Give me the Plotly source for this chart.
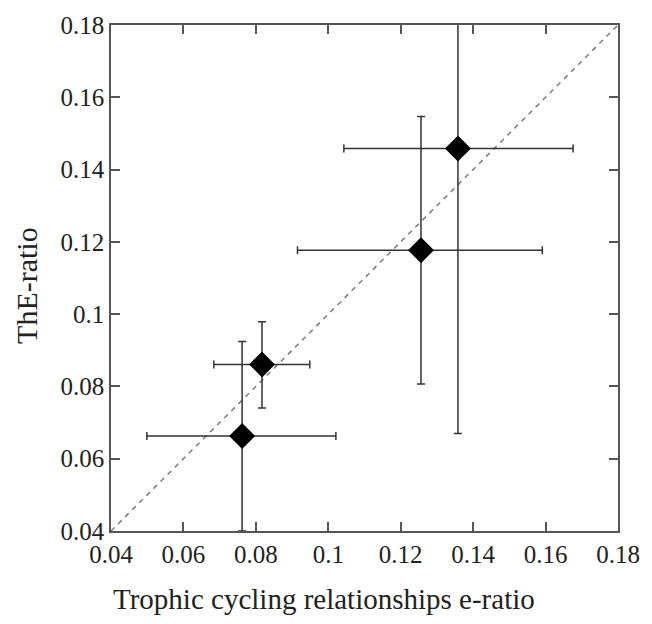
import plotly.graph_objects as go

# Data
x_vals = [0.0762, 0.0817, 0.1256, 0.1358]
y_vals = [0.0663, 0.0861, 0.1177, 0.1458]
x_low = [0.0499, 0.0684, 0.0915, 0.1043]
x_high = [0.1021, 0.0949, 0.1591, 0.1676]
y_low = [0.0400, 0.0740, 0.0807, 0.0670]
y_high = [0.0924, 0.0979, 0.1547, 0.1900]
line_x = [0.04, 0.18]
line_y = [0.04, 0.18]
tick_vals = [0.04, 0.06, 0.08, 0.10, 0.12, 0.14, 0.16, 0.18]
tick_text = ["0.04", "0.06", "0.08", "0.1", "0.12", "0.14", "0.16", "0.18"]
x_title = "Trophic cycling relationships e-ratio"
y_title = "ThE-ratio"

ex_plus = [h - v for h, v in zip(x_high, x_vals)]
ex_minus = [v - l for l, v in zip(x_low, x_vals)]
ey_plus = [h - v for h, v in zip(y_high, y_vals)]
ey_minus = [v - l for l, v in zip(y_low, y_vals)]

fig = go.Figure()
fig.add_trace(go.Scatter(
    x=line_x, y=line_y, mode="lines",
    line=dict(color="#7a7a7a", width=1.5, dash="5px,5px"),
    showlegend=False, hoverinfo="skip"))
fig.add_trace(go.Scatter(
    x=x_vals, y=y_vals, mode="markers",
    marker=dict(symbol="diamond", size=20, color="black", line=dict(width=0)),
    error_x=dict(type="data", symmetric=False, array=ex_plus, arrayminus=ex_minus,
                 color="#333333", thickness=1.5, width=4),
    error_y=dict(type="data", symmetric=False, array=ey_plus, arrayminus=ey_minus,
                 color="#333333", thickness=1.5, width=4),
    showlegend=False))

font_family = "Liberation Serif"
axis_common = dict(
    range=[0.04, 0.18], tickvals=tick_vals, ticktext=tick_text,
    showgrid=False, zeroline=False, showline=True, linecolor="#555555", linewidth=1.5,
    mirror="ticks", ticks="inside", ticklen=9, tickwidth=1.5, tickcolor="#555555",
    tickfont=dict(family=font_family, size=25, color="#222222"),
)
fig.update_xaxes(**axis_common)
fig.update_yaxes(**axis_common)
fig.add_annotation(text=x_title, xref="paper", yref="paper", x=0.42, y=-0.135,
                   showarrow=False, xanchor="center", yanchor="middle",
                   font=dict(family=font_family, size=29, color="#222222"))
fig.add_annotation(text=y_title, xref="paper", yref="paper", x=-0.168, y=0.486,
                   textangle=-90, showarrow=False, xanchor="center", yanchor="middle",
                   font=dict(family=font_family, size=30, color="#222222"))
fig.update_layout(
    width=652, height=624,
    margin=dict(l=111, r=29, t=19, b=93),
    plot_bgcolor="white", paper_bgcolor="white",
    font=dict(family=font_family, color="#222222"),
)
fig.write_html("out.html")
